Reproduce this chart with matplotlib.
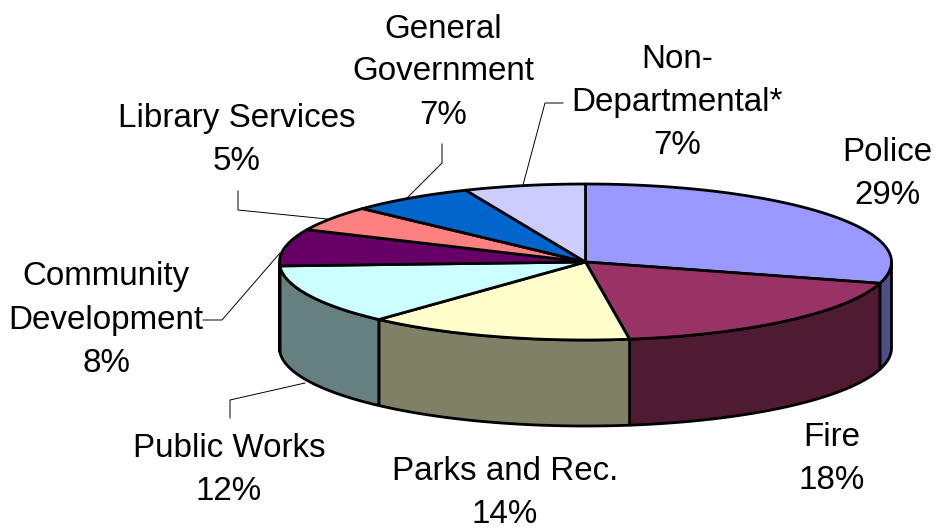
import numpy as np
import matplotlib
matplotlib.use("Agg")
import matplotlib.pyplot as plt
from matplotlib.patches import Polygon

plt.rcParams['font.family'] = ['Liberation Sans', 'DejaVu Sans']

# slice sizes as measured on the picture, the printed labels are rounded
departments = ["Police", "Fire", "Parks and Rec.", "Public Works", "Community\nDevelopment",
               "Library Services", "General\nGovernment", "Non-\nDepartmental*"]
shares = [29.4, 18.3, 14.1, 12.4, 7.6, 5.2, 6.6, 6.4]
printed = ["29%", "18%", "14%", "12%", "8%", "5%", "7%", "7%"]

top_colors = ["#9999FF", "#993366", "#FFFFCC", "#CCFFFF", "#660066", "#FF8080", "#0066CC", "#CCCCFF"]
wall_colors = ["#4F4F87", "#4E1B33", "#808066", "#668080", "#330033", "#804040", "#003366", "#666680"]

label_pos = [(887, 174), (832, 459), (505, 493), (229, 470), (106, 320), (237, 140), (443, 72), (677, 103)]
leaders = {
    3: [(305, 383), (230, 400), (230, 418)],
    4: [(280, 253), (222, 320), (203, 320)],
    5: [(327, 219), (238, 210), (238, 191)],
    6: [(407, 198), (442, 163), (442, 144)],
    7: [(523, 185), (545, 103), (563, 103)],
}

cx, cy = 585.5, 262
rx, ry = 306, 78
depth = 86


def rim(a0, a1):
    # a is degrees clockwise from 12 o'clock
    a = np.radians(np.linspace(a0, a1, 120))
    return cx + rx * np.sin(a), cy - ry * np.cos(a)


fig = plt.figure(figsize=(9.37, 5.29), dpi=100)
ax = fig.add_axes([0, 0, 1, 1])
ax.set_xlim(0, 937)
ax.set_ylim(529, 0)
ax.axis("off")

edges = np.cumsum([0] + shares) / sum(shares) * 360

# walls first, only the front half of the rim can be seen
for i in range(len(shares)):
    a0 = max(edges[i], 90)
    a1 = min(edges[i + 1], 270)
    if a1 <= a0:
        continue
    x, y = rim(a0, a1)
    pts = np.column_stack([np.r_[x, x[::-1]], np.r_[y, y[::-1] + depth]])
    ax.add_patch(Polygon(pts, closed=True, facecolor=wall_colors[i], edgecolor="black",
                         linewidth=2.0, joinstyle="round", zorder=2))

for i in range(len(shares)):
    x, y = rim(edges[i], edges[i + 1])
    pts = np.column_stack([np.r_[cx, x], np.r_[cy, y]])
    ax.add_patch(Polygon(pts, closed=True, facecolor=top_colors[i], edgecolor="black",
                         linewidth=2.0, joinstyle="round", zorder=3))

for i, pts in leaders.items():
    xs, ys = zip(*pts)
    ax.plot(xs, ys, color="black", linewidth=0.7, zorder=1)

for name, pct, (tx, ty) in zip(departments, printed, label_pos):
    ax.text(tx, ty, name + "\n" + pct, ha="center", va="center", fontsize=23.9,
            linespacing=1.5, color="black")

fig.savefig("out.png", dpi=100, facecolor="white")
